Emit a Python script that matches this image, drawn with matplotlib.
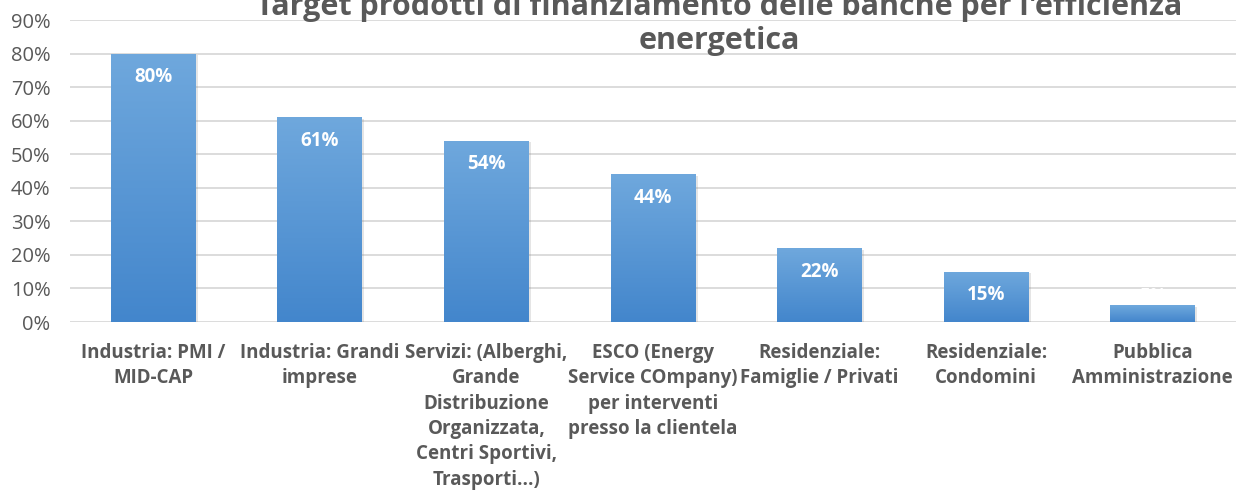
import numpy as np
import matplotlib
matplotlib.use("Agg")
import matplotlib.pyplot as plt
import matplotlib.patheffects as pe

plt.rcParams['font.family'] = ['Open Sans', 'DejaVu Sans']

categories = ["Industria: PMI /\nMID-CAP",
              "Industria: Grandi\nimprese",
              "Servizi: (Alberghi,\nGrande\nDistribuzione\nOrganizzata,\nCentri Sportivi,\nTrasporti...)",
              "ESCO (Energy\nService COmpany)\nper interventi\npresso la clientela",
              "Residenziale:\nFamiglie / Privati",
              "Residenziale:\nCondomini",
              "Pubblica\nAmministrazione"]
values = [0.80, 0.61, 0.54, 0.44, 0.22, 0.15, 0.05]
labels = ["80%", "61%", "54%", "44%", "22%", "15%", "5%"]
yticks = [0, 0.1, 0.2, 0.3, 0.4, 0.5, 0.6, 0.7, 0.8, 0.9]
title = "Target prodotti di finanziamento delle banche per l'efficienza\nenergetica"

grey = "#595959"
fig = plt.figure(figsize=(12.36, 4.91), dpi=100)
ax = fig.add_axes([70 / 1236, 169 / 491, 1166 / 1236, 302 / 491])

x = np.arange(len(values))
bars = ax.bar(x, values, width=0.51, color="#5b9bd5", zorder=2,
              path_effects=[pe.SimplePatchShadow(offset=(1.5, -1), shadow_rgbFace="#7f7f7f", alpha=0.2),
                            pe.Normal()])

# vertical gradient inside each bar
grad = np.linspace(0, 1, 256).reshape(-1, 1)
cmap = matplotlib.colors.LinearSegmentedColormap.from_list("g", ["#4386cc", "#6fa8dd"])
for b in bars:
    x0, w, h = b.get_x(), b.get_width(), b.get_height()
    im = ax.imshow(grad, extent=[x0, x0 + w, 0, h], origin="lower", aspect="auto",
                   cmap=cmap, zorder=3)
    im.set_clip_path(b)

for i, (v, lab) in enumerate(zip(values, labels)):
    if v > 0.1:
        ax.annotate(lab, (i, v), xytext=(0, -17), textcoords="offset points",
                    ha="center", va="center", color="white", fontsize=13.5,
                    fontweight="bold", zorder=4)
    else:
        ax.annotate(lab, (i, v), xytext=(0, 6), textcoords="offset points",
                    ha="center", va="center", color="white", fontsize=13.5,
                    fontweight="bold", zorder=4)

ax.set_xlim(-0.5, 6.5)
ax.set_ylim(0, 0.9)
ax.set_yticks(yticks)
ax.set_yticklabels([f"{int(round(t * 100))}%" for t in yticks])
ax.set_xticks(x)
ax.set_xticklabels(categories, fontweight="bold", fontsize=13.5, color=grey,
                   linespacing=1.36, va="top")
ax.tick_params(axis="y", length=0, pad=14, labelsize=14.5, labelcolor=grey)
ax.tick_params(axis="x", length=0, pad=15)
ax.yaxis.grid(True, color="#d9d9d9", linewidth=1.3, zorder=0)
ax.set_axisbelow(True)
for s in ax.spines.values():
    s.set_visible(False)

fig.text(0.582, 0.951, title, ha="center", va="center", fontsize=22,
         fontweight="bold", color=grey, linespacing=1.2)

fig.savefig("out.png", dpi=100)
